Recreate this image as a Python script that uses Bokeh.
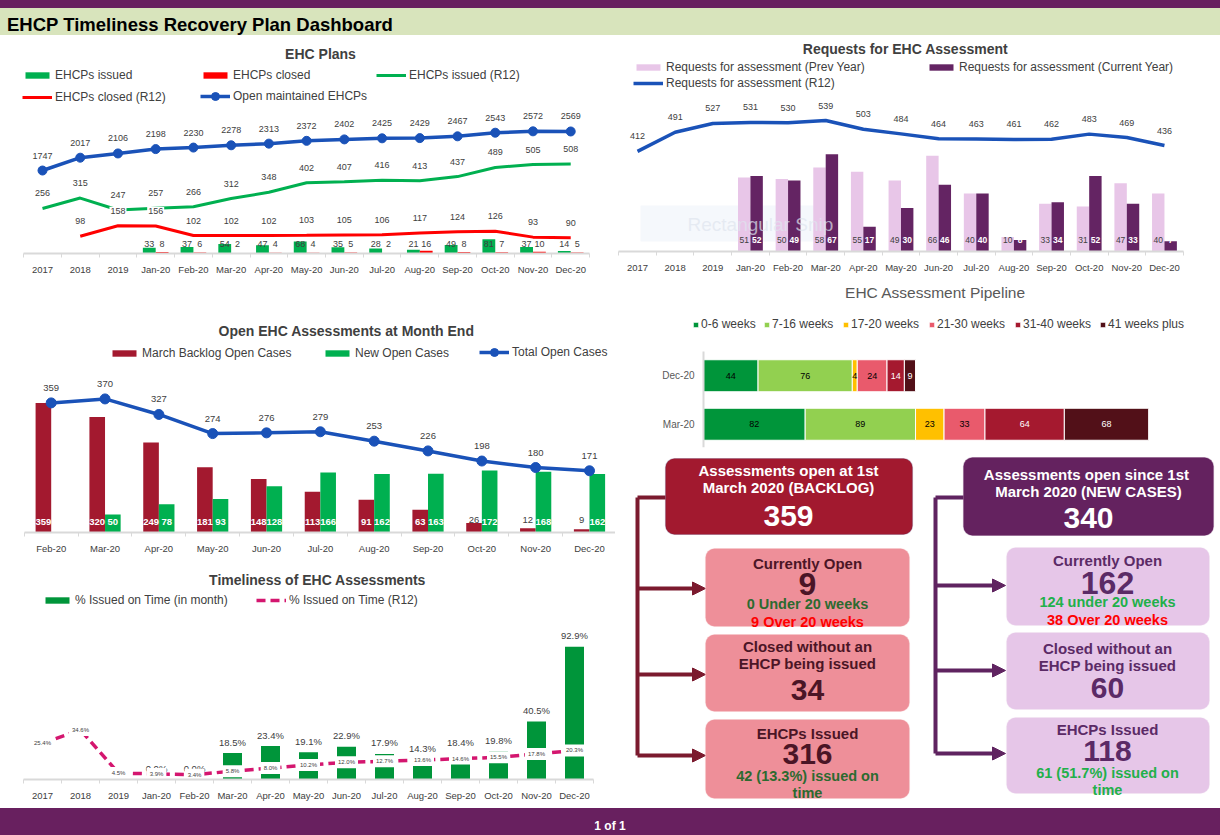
import numpy as np
from bokeh.plotting import figure
from bokeh.models import (ColumnDataSource, Range1d, Legend, LegendItem, Label, BoxAnnotation,
                          Arrow, NormalHead, Div, FixedTicker)
from bokeh.layouts import column, row
from bokeh.core.properties import value
from bokeh.embed import file_html
from bokeh.resources import INLINE

FONT = "Liberation Sans"
GREY = "#404040"
NAN = np.nan

# ------------------------------------------------------------------ data
periods = ["2017", "2018", "2019", "Jan-20", "Feb-20", "Mar-20", "Apr-20", "May-20",
           "Jun-20", "Jul-20", "Aug-20", "Sep-20", "Oct-20", "Nov-20", "Dec-20"]
months20 = periods[3:]

# EHC Plans
plans_open = [1747, 2017, 2106, 2198, 2230, 2278, 2313, 2372, 2402, 2425, 2429, 2467, 2543, 2572, 2569]
plans_issued_r12 = [256, 315, 247, 257, 266, 312, 348, 402, 407, 416, 413, 437, 489, 505, 508]
plans_closed_r12 = [NAN, 98, 158, 156, 102, 102, 102, 103, 105, 106, 117, 124, 126, 93, 90]
plans_issued = [33, 37, 54, 47, 68, 35, 28, 21, 49, 81, 37, 14]
plans_closed = [8, 6, 2, 4, 4, 5, 2, 16, 8, 7, 10, 5]

# Requests for EHC assessment
req_r12 = [412, 491, 527, 531, 530, 539, 503, 484, 464, 463, 461, 462, 483, 469, 436]
req_prev = [51, 50, 58, 55, 49, 66, 40, 10, 33, 31, 47, 40]
req_curr = [52, 49, 67, 17, 30, 46, 40, 8, 34, 52, 33, 7]

# Pipeline
pipe_cats = ["Mar-20", "Dec-20"]
pipe_bands = ["0-6 weeks", "7-16 weeks", "17-20 weeks", "21-30 weeks", "31-40 weeks", "41 weeks plus"]
pipe_mar = [82, 89, 23, 33, 64, 68]
pipe_dec = [44, 76, 4, 24, 14, 9]

# Open assessments at month end
open_cats = ["Feb-20", "Mar-20", "Apr-20", "May-20", "Jun-20", "Jul-20", "Aug-20",
             "Sep-20", "Oct-20", "Nov-20", "Dec-20"]
open_backlog = [359, 320, 249, 181, 148, 113, 91, 63, 26, 12, 9]
open_new = [0, 50, 78, 93, 128, 166, 162, 163, 172, 168, 162]
open_total = [359, 370, 327, 274, 276, 279, 253, 226, 198, 180, 171]

# Timeliness
time_month = [NAN, NAN, NAN, 0.0, 0.0, 18.5, 23.4, 19.1, 22.9, 17.9, 14.3, 18.4, 19.8, 40.5, 92.9]
time_r12 = [25.4, 34.6, 4.5, 3.9, 3.4, 5.8, 8.0, 10.2, 12.0, 12.7, 13.6, 14.6, 15.5, 17.8, 20.3]

# Summary boxes
backlog = dict(total=359, open=9, under=0, over=9, closed=34, issued=316, ontime=42, pct=13.3)
newc = dict(total=340, open=162, under=124, over=38, closed=60, issued=118, ontime=61, pct=51.7)

# ------------------------------------------------------------------ colours
GREEN = "#00b050"
DKGREEN = "#00953a"
RED = "#ff0000"
BLUE = "#1a52b8"
PINK_PREV = "#e8c6e8"
PURPLE = "#642463"
BACKLOG = "#a3192f"
R12PINK = "#d4166f"
PIPE_COLS = ["#00953a", "#92d050", "#ffc000", "#e95a6c", "#a5192f", "#521018"]
HEADER_PURPLE = "#68205f"

TEXT_H = {"12px": 16, "11px": 13}


def chart_fig(w, h, ox, X0, s, cats, yr, fb):
    """Category chart on an index axis; first category centred at page x X0, spacing s px."""
    n = len(cats)
    start = -(X0 - ox) / s
    p = figure(width=w, height=h, x_range=Range1d(start, start + w / s), y_range=yr,
               output_backend="svg", toolbar_location=None, tools="", y_axis_location=None,
               min_border_left=0, min_border_right=0, min_border_top=0,
               min_border_bottom=h - fb, outline_line_color=None,
               background_fill_color="white", border_fill_color="white")
    p.xgrid.visible = False
    p.ygrid.visible = False
    ax = p.xaxis[0]
    ax.ticker = FixedTicker(ticks=list(range(n)), minor_ticks=[i - 0.5 for i in range(n + 1)])
    ax.major_label_overrides = {i: c for i, c in enumerate(cats)}
    ax.bounds = (-0.5, n - 0.5)
    ax.axis_line_color = "#d9d9d9"
    ax.axis_line_width = 2
    ax.major_tick_line_color = None
    ax.major_tick_out = 0
    ax.major_tick_in = 0
    ax.minor_tick_line_color = "#d9d9d9"
    ax.minor_tick_out = 4
    ax.minor_tick_in = 0
    ax.major_label_text_font = FONT
    ax.major_label_text_font_size = "9.5px"
    ax.major_label_text_color = GREY
    ax.major_label_standoff = 6
    return p


def add_title(p, text, X, Y, geo, bold=True, color=GREY, size="14px"):
    ox, oy, fb = geo
    p.add_layout(Label(x=X - ox, y=(oy + fb) - Y, x_units="screen", y_units="screen",
                       text=text, text_align="center", text_baseline="middle",
                       text_font=FONT, text_font_size=size,
                       text_font_style="bold" if bold else "normal", text_color=color))


def add_legend(p, label, renderers, X, Y, geo, gh=8, gw=30, size="12px", standoff=3):
    ox, oy, fb = geo
    H = max(gh, TEXT_H[size])
    lg = Legend(items=[LegendItem(label=value(label), renderers=renderers)],
                location=(X - ox, (oy + fb) - Y - H / 2),
                orientation="horizontal", glyph_width=gw, glyph_height=gh, label_height=gh,
                label_text_font=FONT, label_text_font_size=size, label_text_color=GREY,
                label_standoff=standoff, padding=0, margin=0, spacing=0,
                border_line_color=None, background_fill_alpha=0)
    p.add_layout(lg)


def add_text(p, xs, ys, texts, size, color, y_offset=0, range_name="default",
             bold=False, bg=None, pad=0):
    src = ColumnDataSource(dict(x=list(xs), y=list(ys), t=list(texts)))
    kw = {}
    if bg is not None:
        kw.update(background_fill_color=bg, padding=pad)
    p.text(x="x", y="y", text="t", source=src, text_align="center", text_baseline="middle",
           text_font=value(FONT), text_font_size=size, text_color=color, y_offset=y_offset,
           y_range_name=range_name, text_font_style="bold" if bold else "normal", **kw)


def finite(xs, vals):
    out_x, out_v = [], []
    for a, b in zip(xs, vals):
        if not np.isnan(b):
            out_x.append(a)
            out_v.append(b)
    return out_x, out_v


idx_p = np.arange(len(periods))
idx_m = idx_p[3:]

# ------------------------------------------------------------------ A: EHC Plans
geoA = (0, 38, 215)
pa = chart_fig(615, 280, 0, 42, 37.73, periods, Range1d(0, 215 / 0.176), 215)
pa.extra_y_ranges = {"open": Range1d(0, 215 / 0.0475)}
srcA = ColumnDataSource(dict(x=idx_p, open=plans_open, iss=plans_issued_r12,
                             clo=np.array(plans_closed_r12, dtype=float)))
srcAm = ColumnDataSource(dict(xg=idx_m - 0.17, xr=idx_m + 0.17, iss=plans_issued, clo=plans_closed))
barA_g = pa.vbar(x="xg", top="iss", width=0.34, source=srcAm, fill_color=GREEN, line_color=None)
barA_r = pa.vbar(x="xr", top="clo", width=0.34, source=srcAm, fill_color=RED, line_color=None)
lnA_g = pa.line("x", "iss", source=srcA, line_color=GREEN, line_width=3)
lnA_r = pa.line("x", "clo", source=srcA, line_color=RED, line_width=3)
lnA_b = pa.line("x", "open", source=srcA, y_range_name="open", line_color=BLUE, line_width=3.5)
scA_b = pa.scatter("x", "open", source=srcA, y_range_name="open", size=9, color=BLUE)

add_text(pa, idx_p, plans_open, [str(v) for v in plans_open], "9px", GREY, y_offset=-15,
         range_name="open")
add_text(pa, idx_p, plans_issued_r12, [str(v) for v in plans_issued_r12], "9px", GREY, y_offset=-15)
cx_, cv_ = finite(idx_p, plans_closed_r12)
add_text(pa, cx_, cv_, [str(int(x)) for x in cv_], "9px", GREY, y_offset=-15, bg="white", pad=1)
add_text(pa, idx_m - 0.17, [0] * 12, [str(x) for x in plans_issued], "9px", GREY, y_offset=-10)
add_text(pa, idx_m + 0.17, [0] * 12, [str(x) for x in plans_closed], "9px", GREY, y_offset=-10)

add_title(pa, "EHC Plans", 320, 53, geoA)
add_legend(pa, "EHCPs issued", [barA_g], 22, 74, geoA)
add_legend(pa, "EHCPs closed", [barA_r], 200, 74, geoA)
add_legend(pa, "EHCPs issued (R12)", [lnA_g], 376, 74, geoA)
add_legend(pa, "EHCPs closed (R12)", [lnA_r], 22, 96, geoA)
add_legend(pa, "Open maintained EHCPs", [lnA_b, scA_b], 200, 96, geoA, gh=20)

# ------------------------------------------------------------------ B: Requests
geoB = (615, 38, 213)
pb = chart_fig(605, 240, 615, 637, 37.64, periods, Range1d(0, 213 / 1.45), 213)
pb.extra_y_ranges = {"r12": Range1d(0, 213 / 0.243)}
# faint screenshot-tool watermark present in the reference
pb.add_layout(BoxAnnotation(left=640 - 615, right=832 - 615, top=213 - (205 - 38),
                            bottom=213 - (241 - 38), left_units="screen", right_units="screen",
                            top_units="screen", bottom_units="screen",
                            fill_color="#eef3fa", fill_alpha=0.6, line_color=None, level="underlay"))
srcB = ColumnDataSource(dict(x=idx_p, r12=req_r12))
srcBm = ColumnDataSource(dict(xp=idx_m - 0.165, xc=idx_m + 0.165, prev=req_prev, cur=req_curr))
barB_p = pb.vbar(x="xp", top="prev", width=0.33, source=srcBm, fill_color=PINK_PREV, line_color=None)
barB_c = pb.vbar(x="xc", top="cur", width=0.33, source=srcBm, fill_color=PURPLE, line_color=None)
lnB = pb.line("x", "r12", source=srcB, y_range_name="r12", line_color=BLUE, line_width=3.5)
add_text(pb, idx_p, req_r12, [str(v) for v in req_r12], "9px", GREY, y_offset=-15, range_name="r12")
add_text(pb, idx_m - 0.165, [0] * 12, [str(v) for v in req_prev], "8.5px", GREY, y_offset=-12)
add_text(pb, idx_m + 0.165, [0] * 12, [str(v) for v in req_curr], "8.5px", "white", y_offset=-12,
         bold=True)
pb.add_layout(Label(x=687 - 615, y=213 - (224 - 38), x_units="screen", y_units="screen",
                    text="Rectangular Snip", text_font=FONT, text_font_size="19px",
                    text_baseline="middle", text_color="#dfe5ee", text_alpha=0.7))
add_title(pb, "Requests for EHC Assessment", 905, 48, geoB)
add_legend(pb, "Requests for assessment (Prev Year)", [barB_p], 633, 66, geoB)
add_legend(pb, "Requests for assessment (Current Year)", [barB_c], 926, 66, geoB)
add_legend(pb, "Requests for assessment (R12)", [lnB], 633, 82, geoB)

# ------------------------------------------------------------------ C: Pipeline
geoC = (615, 278, 169)
slot = 48.5
y0 = -23.25 / slot
xs0 = -(703 - 615) / 1.24
pc = figure(width=605, height=170, x_range=Range1d(xs0, xs0 + 605 / 1.24),
            y_range=Range1d(y0, y0 + 169 / slot),
            output_backend="svg", toolbar_location=None, tools="", x_axis_location=None,
            y_axis_location=None, min_border_left=0, min_border_right=0, min_border_top=0,
            min_border_bottom=1, outline_line_color=None)
pc.grid.visible = False
pipe_pos = list(range(len(pipe_cats)))
pipe_data = {"pos": pipe_pos}
for j, b in enumerate(pipe_bands):
    pipe_data[b] = [pipe_mar[j], pipe_dec[j]]
srcC = ColumnDataSource(pipe_data)
rs = pc.hbar_stack(pipe_bands, y="pos", height=0.66, color=PIPE_COLS, source=srcC,
                   line_color="white", line_width=1)
# category axis line and labels
pc.segment(x0=[0], y0=[y0], x1=[0], y1=[len(pipe_cats) - 0.5], line_color="#d9d9d9", line_width=2)
pc.text(x=[0] * len(pipe_cats), y=pipe_pos, text=pipe_cats, x_offset=-9, text_align="right",
        text_baseline="middle", text_font=value(FONT), text_font_size="10px", text_color="#595959")
lx, ly, lt, lc = [], [], [], []
for pos, vals in zip(pipe_pos, [pipe_mar, pipe_dec]):
    acc = 0
    for j, v in enumerate(vals):
        lx.append(acc + v / 2)
        ly.append(pos)
        lt.append(str(v))
        lc.append("white" if j >= 4 else "black")
        acc += v
srcCl = ColumnDataSource(dict(x=lx, y=ly, t=lt, c=lc))
pc.text(x="x", y="y", text="t", text_color="c", source=srcCl, text_align="center",
        text_baseline="middle", text_font=value(FONT), text_font_size="9px")
add_title(pc, "EHC Assessment Pipeline", 935, 292, geoC, bold=False, color="#595959", size="15.5px")
for b, r, X in zip(pipe_bands, rs, [692, 763, 842, 928, 1014, 1099]):
    add_legend(pc, b, [r], X, 323, geoC, gh=7, gw=7, size="12px", standoff=2)

# ------------------------------------------------------------------ D: Open assessments
geoD = (0, 318, 214)
idx_o = np.arange(len(open_cats))
pd_ = chart_fig(615, 245, 0, 50.7, 53.83, open_cats, Range1d(0, 214 / 0.361), 214)
srcD = ColumnDataSource(dict(x=idx_o, xb=idx_o - 0.145, xn=idx_o + 0.145,
                             bl=open_backlog, nw=open_new, tot=open_total))
barD_b = pd_.vbar(x="xb", top="bl", width=0.29, source=srcD, fill_color=BACKLOG, line_color=None)
barD_n = pd_.vbar(x="xn", top="nw", width=0.29, source=srcD, fill_color=GREEN, line_color=None)
lnD = pd_.line("x", "tot", source=srcD, line_color=BLUE, line_width=3.5)
scD = pd_.scatter("x", "tot", source=srcD, size=10, color=BLUE)
add_text(pd_, idx_o, open_total, [str(v) for v in open_total], "9.5px", GREY, y_offset=-15)
big = np.array([v * 0.361 >= 16 for v in open_backlog])
bl = np.array(open_backlog)
add_text(pd_, idx_o[big] - 0.145, [0] * int(big.sum()), [str(v) for v in bl[big]], "9.5px",
         "white", y_offset=-11, bold=True)
add_text(pd_, idx_o[~big] - 0.145, [0] * int((~big).sum()), [str(v) for v in bl[~big]], "9.5px",
         GREY, y_offset=-13)
nw = np.array(open_new)
has = nw > 0
add_text(pd_, idx_o[has] + 0.145, [0] * int(has.sum()), [str(v) for v in nw[has]], "9.5px",
         "white", y_offset=-11, bold=True)
add_title(pd_, "Open EHC Assessments at Month End", 346, 330, geoD)
add_legend(pd_, "March Backlog Open Cases", [barD_b], 109, 352, geoD)
add_legend(pd_, "New Open Cases", [barD_n], 322, 352, geoD)
add_legend(pd_, "Total Open Cases", [lnD, scD], 479, 352, geoD, gh=20)

# ------------------------------------------------------------------ E: Timeliness
geoE = (0, 563, 216)
pe = chart_fig(615, 245, 0, 42, 38.0, periods, Range1d(0, 216 / 1.43), 216)
srcE = ColumnDataSource(dict(x=idx_p, m=np.array(time_month, dtype=float), r=time_r12))
barE = pe.vbar(x="x", top="m", width=0.5, source=srcE, fill_color=DKGREEN, line_color=None)
lnE = pe.line("x", "r", source=srcE, line_color=R12PINK, line_width=3.5, line_dash="9 5")
tx_, tv_ = finite(idx_p, time_month)
add_text(pe, tx_, tv_, ["%.1f%%" % x for x in tv_], "9.5px", GREY, y_offset=-11)
add_text(pe, idx_p, time_r12, ["%.1f%%" % x for x in time_r12], "6px", GREY, bg="white", pad=3)
add_title(pe, "Timeliness of EHC Assessments", 317, 579, geoE)
add_legend(pe, "% Issued on Time (in month)", [barE], 42, 599, geoE)
add_legend(pe, "% Issued on Time (R12)", [lnE], 256, 599, geoE)

# ------------------------------------------------------------------ F: summary boxes
pf = figure(width=605, height=360, x_range=Range1d(0, 605), y_range=Range1d(360, 0),
            output_backend="svg", toolbar_location=None, tools="", x_axis_location=None,
            y_axis_location=None, min_border=0, outline_line_color=None)
pf.grid.visible = False


def box(l, r, t, b, fill, line, rad=9):
    pf.add_layout(BoxAnnotation(left=l, right=r, top=t, bottom=b, fill_color=fill, fill_alpha=1,
                                line_color=line, line_width=1.2, border_radius=rad))


def txt(x, y, s, size, color, bold=True):
    pf.add_layout(Label(x=x, y=y, text=s, text_align="center", text_baseline="middle",
                        text_font=FONT, text_font_size=size, text_color=color,
                        text_font_style="bold" if bold else "normal"))


def connector(xv, ytop, ys, xstub, xtip, color):
    pf.multi_line(xs=[[xv, xv], [xv, xstub]], ys=[[ytop, ys[-1]], [ytop, ytop]],
                  line_color=color, line_width=4)
    for yy in ys:
        pf.add_layout(Arrow(x_start=xv, y_start=yy, x_end=xtip, y_end=yy, line_color=color,
                            line_width=4, end=NormalHead(size=13, fill_color=color,
                                                         line_color=color)))


MAROON_T = "#4b1526"
PURP_T = "#5b2a66"
connector(22, 49, [140, 226, 307], 50, 90, "#7b1a2e")
connector(320, 49, [137, 222, 305], 348, 390, "#5f2360")

box(50, 297, 10, 86, "#a2192f", "#5b2a5e")
box(90, 294, 100, 178, "#ee8f99", "#f6c3c8")
box(90, 294, 186, 263, "#ee8f99", "#f6c3c8")
box(90, 294, 271, 350, "#ee8f99", "#f6c3c8")
box(348, 598, 9, 87, "#64225f", "#64225f")
box(391, 594, 99, 177, "#e6c6e8", "#f3e3f3")
box(391, 594, 184, 261, "#e6c6e8", "#f3e3f3")
box(391, 594, 269, 345, "#e6c6e8", "#f3e3f3")

cx = 173
txt(cx, 22, "Assessments open at 1st", "15px", "white")
txt(cx, 39, "March 2020 (BACKLOG)", "15px", "white")
txt(cx, 67, str(backlog["total"]), "30px", "white")
cx = 192
txt(cx, 115, "Currently Open", "15px", MAROON_T)
txt(cx, 135, str(backlog["open"]), "32px", MAROON_T)
txt(cx, 155, "%d Under 20 weeks" % backlog["under"], "14.5px", "#2c6a30")
txt(cx, 173, "%d Over 20 weeks" % backlog["over"], "14.5px", RED)
txt(cx, 198, "Closed without an", "15px", MAROON_T)
txt(cx, 215, "EHCP being issued", "15px", MAROON_T)
txt(cx, 241, str(backlog["closed"]), "30px", MAROON_T)
txt(cx, 285, "EHCPs Issued", "15px", MAROON_T)
txt(cx, 305, str(backlog["issued"]), "30px", MAROON_T)
txt(cx, 327, "%d (%.1f%%) issued on" % (backlog["ontime"], backlog["pct"]), "14.5px", "#2c6a30")
txt(cx, 344, "time", "14.5px", "#2c6a30")

cx = 473
txt(cx, 26, "Assessments open since  1st", "15px", "white")
txt(cx, 43, "March 2020 (NEW CASES)", "15px", "white")
txt(cx, 69, str(newc["total"]), "30px", "white")
cx = 492
txt(cx, 112, "Currently Open", "15px", PURP_T)
txt(cx, 134, str(newc["open"]), "32px", PURP_T)
txt(cx, 153, "%d under 20 weeks" % newc["under"], "14.5px", "#22b04a")
txt(cx, 171, "%d Over 20 weeks" % newc["over"], "14.5px", RED)
txt(cx, 200, "Closed without an", "15px", PURP_T)
txt(cx, 217, "EHCP being issued", "15px", PURP_T)
txt(cx, 239, str(newc["closed"]), "30px", PURP_T)
txt(cx, 281, "EHCPs Issued", "15px", PURP_T)
txt(cx, 302, str(newc["issued"]), "30px", PURP_T)
txt(cx, 324, "%d (%.1f%%) issued on" % (newc["ontime"], newc["pct"]), "14.5px", "#22b04a")
txt(cx, 341, "time", "14.5px", "#22b04a")

# ------------------------------------------------------------------ header / footer
header = Div(width=1220, height=38, margin=(0, 0, 0, 0), text=(
    "<div style='width:1220px;height:38px;margin:0;padding:0;background:white;'>"
    "<div style='height:8px;background:%s;'></div>"
    "<div style='height:27px;background:#d8e4bc;color:#000;font-family:\"Liberation Sans\",Arial,sans-serif;"
    "font-weight:bold;font-size:18.5px;line-height:33px;padding-left:7px;white-space:nowrap;'>"
    "EHCP Timeliness Recovery Plan Dashboard</div></div>") % HEADER_PURPLE)
footer = Div(width=1220, height=27, margin=(0, 0, 0, 0), text=(
    "<div style='width:1220px;height:27px;background:%s;color:white;text-align:center;"
    "font-family:\"Liberation Sans\",Arial,sans-serif;font-weight:bold;font-size:12px;"
    "line-height:36px;'>1 of 1</div>") % HEADER_PURPLE)

left = column(pa, pd_, pe, spacing=0)
right = column(pb, pc, pf, spacing=0)
page = column(header, row(left, right, spacing=0), footer, spacing=0)

open("out.html", "w").write(file_html(page, INLINE, title="EHCP Timeliness Recovery Plan Dashboard"))
